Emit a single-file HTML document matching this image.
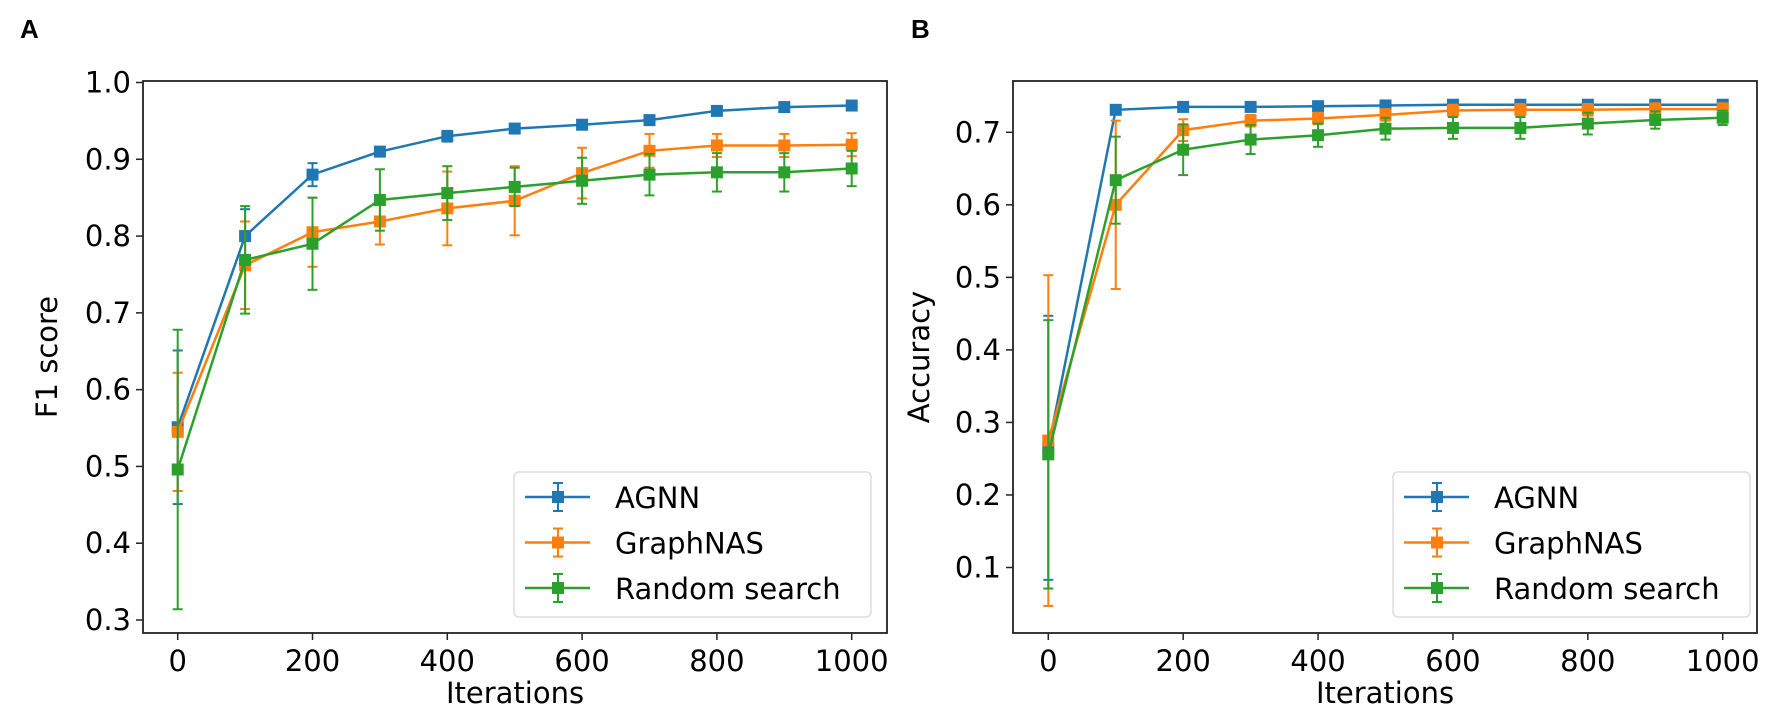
<!DOCTYPE html>
<html><head><meta charset="utf-8"><style>
html,body{margin:0;padding:0;background:#fff;}
svg{display:block;font-family:"DejaVu Sans","Liberation Sans",sans-serif;}
</style></head><body>
<svg id="s" width="1772" height="719" viewBox="0 0 1772 719" xmlns="http://www.w3.org/2000/svg">
<text x="20" y="38" font-size="26" font-weight="bold" font-family="Liberation Sans, sans-serif">A</text>
<text x="911" y="38" font-size="26" font-weight="bold" font-family="Liberation Sans, sans-serif">B</text>
<text x="515" y="703" font-size="29" text-anchor="middle">Iterations</text>
<text x="1385" y="703" font-size="29" text-anchor="middle">Iterations</text>
<text transform="translate(57,357) rotate(-90)" font-size="29" text-anchor="middle">F1 score</text>
<text transform="translate(929,357) rotate(-90)" font-size="29" text-anchor="middle">Accuracy</text>
</svg>
<script>
const S=document.getElementById('s');const NS='http://www.w3.org/2000/svg';
function el(t,a,txt){const e=document.createElementNS(NS,t);for(const k in a)e.setAttribute(k,a[k]);if(txt!==undefined)e.textContent=txt;S.appendChild(e);return e;}
const C=['#1f77b4','#ff7f0e','#2ca02c'];
function plot(P){
 const X=v=>P.x0+v*(P.x1-P.x0)/1000, Y=v=>P.ya+(v-P.va)*(P.yb-P.ya)/(P.vb-P.va);
 for(let i=0;i<=1000;i+=200){const x=X(i);el('line',{x1:x,y1:P.B,x2:x,y2:P.B+7,stroke:'#222','stroke-width':1.5});el('text',{x:x,y:P.B+38,'font-size':29,'text-anchor':'middle'},String(i));}
 P.yt.forEach(v=>{const y=Y(v);el('line',{x1:P.L-7,y1:y,x2:P.L,y2:y,stroke:'#222','stroke-width':1.5});el('text',{x:P.L-12,y:y+10,'font-size':29,'text-anchor':'end'},v.toFixed(1));});
 P.series.forEach((s,k)=>{
   const col=C[k];let d='';
   s.m.forEach((m,i)=>{const x=X(i*100);const e=s.e[i];
     el('line',{x1:x,y1:Y(m-e),x2:x,y2:Y(m+e),stroke:col,'stroke-width':2});
     el('line',{x1:x-5,y1:Y(m-e),x2:x+5,y2:Y(m-e),stroke:col,'stroke-width':2});
     el('line',{x1:x-5,y1:Y(m+e),x2:x+5,y2:Y(m+e),stroke:col,'stroke-width':2});
     d+=(i?'L':'M')+x.toFixed(1)+' '+Y(m).toFixed(1);});
   el('path',{d:d,fill:'none',stroke:col,'stroke-width':2.5});
   s.m.forEach((m,i)=>{const x=X(i*100);el('rect',{x:x-6,y:Y(m)-6,width:12,height:12,fill:col});});
 });
 el('rect',{x:P.L,y:P.T,width:P.R-P.L,height:P.B-P.T,fill:'none',stroke:'#222','stroke-width':1.8});
 const lx=P.lx;el('rect',{x:lx,y:472,width:357,height:145,rx:5,fill:'#fff','fill-opacity':0.85,stroke:'#ddd','stroke-width':1.5});
 ['AGNN','GraphNAS','Random search'].forEach((n,k)=>{const y=497+k*45.5,col=C[k];
  el('line',{x1:lx+11,y1:y,x2:lx+76,y2:y,stroke:col,'stroke-width':2.5});
  el('line',{x1:lx+44,y1:y-14,x2:lx+44,y2:y+14,stroke:col,'stroke-width':2});
  el('line',{x1:lx+39,y1:y-14,x2:lx+49,y2:y-14,stroke:col,'stroke-width':2});
  el('line',{x1:lx+39,y1:y+14,x2:lx+49,y2:y+14,stroke:col,'stroke-width':2});
  el('rect',{x:lx+38,y:y-6,width:12,height:12,fill:col});
  el('text',{x:lx+101,y:y+11,'font-size':29},n);});
}
plot({L:143,R:887,T:81,B:633,x0:177.7,x1:851.7,ya:82.5,va:1.0,yb:620,vb:0.3,yt:[0.3,0.4,0.5,0.6,0.7,0.8,0.9,1.0],lx:514,
 series:[
 {m:[0.551,0.80,0.88,0.91,0.93,0.94,0.945,0.951,0.963,0.968,0.970],e:[0.1,0.035,0.015,0.006,0.007,0.006,0.005,0.005,0.005,0.004,0.004]},
 {m:[0.545,0.762,0.805,0.819,0.836,0.846,0.882,0.911,0.918,0.918,0.919],e:[0.077,0.057,0.045,0.03,0.048,0.045,0.033,0.022,0.015,0.015,0.015]},
 {m:[0.496,0.769,0.790,0.847,0.856,0.864,0.872,0.880,0.883,0.883,0.888],e:[0.182,0.07,0.06,0.04,0.035,0.025,0.03,0.027,0.025,0.025,0.023]}]});
plot({L:1013,R:1757,T:81,B:633,x0:1048.3,x1:1722.7,ya:132.3,va:0.7,yb:567.5,vb:0.1,yt:[0.1,0.2,0.3,0.4,0.5,0.6,0.7],lx:1393,
 series:[
 {m:[0.265,0.731,0.735,0.735,0.736,0.737,0.738,0.738,0.738,0.738,0.738],e:[0.182,0.005,0.004,0.004,0.004,0.004,0.004,0.004,0.004,0.004,0.004]},
 {m:[0.275,0.600,0.703,0.716,0.719,0.724,0.730,0.731,0.731,0.732,0.732],e:[0.228,0.116,0.015,0.008,0.008,0.008,0.008,0.008,0.008,0.008,0.008]},
 {m:[0.256,0.634,0.676,0.690,0.696,0.705,0.706,0.706,0.712,0.717,0.720],e:[0.185,0.06,0.035,0.02,0.016,0.015,0.015,0.015,0.015,0.012,0.01]}]});
</script>
</body></html>
